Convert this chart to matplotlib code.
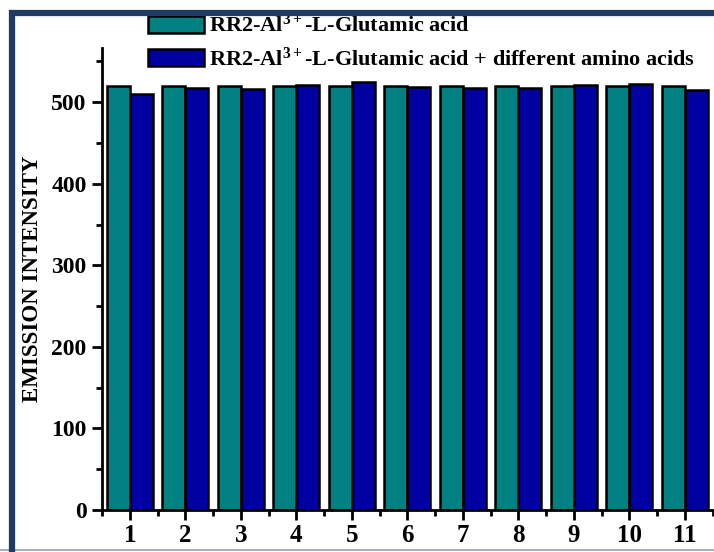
import matplotlib
matplotlib.use('Agg')
import matplotlib.pyplot as plt
from matplotlib.patches import Rectangle
from matplotlib.lines import Line2D
from matplotlib.ticker import MultipleLocator
import numpy as np

# emission intensity for each sample (1-11)
samples = [1, 2, 3, 4, 5, 6, 7, 8, 9, 10, 11]
glutamic = [520, 520, 520, 520, 520, 520, 520, 520, 520, 520, 520]
with_amino = [510, 517, 516, 521, 524.5, 519, 517.5, 517.5, 521.5, 522.5, 515.5]

label_a = 'RR2-Al$^{3+}$-L-Glutamic acid'
label_b = 'RR2-Al$^{3+}$-L-Glutamic acid + different amino acids'

plt.rcParams['font.family'] = 'Liberation Serif'
plt.rcParams['font.weight'] = 'bold'
plt.rcParams['mathtext.fontset'] = 'custom'
plt.rcParams['mathtext.rm'] = 'Liberation Serif:bold'
plt.rcParams['mathtext.it'] = 'Liberation Serif:bold'
plt.rcParams['mathtext.bf'] = 'Liberation Serif:bold'

fig = plt.figure(figsize=(7.14, 5.52), dpi=100)
ax = fig.add_axes([102 / 714, 1 - 510 / 552, 1 - 102 / 714, (510 - 48) / 552])

x = np.array(samples)
w = 0.41
ax.bar(x - w, glutamic, width=w, align='edge', color='#008080',
       edgecolor='black', linewidth=1.8, label=label_a)
ax.bar(x, with_amino, width=w, align='edge', color='#0000A0',
       edgecolor='black', linewidth=1.8, label=label_b)

ax.set_xlim(0.5, 11.527)
ax.set_ylim(0, 566.5)
ax.spines['top'].set_visible(False)
ax.spines['right'].set_visible(False)
for s in ('left', 'bottom'):
    ax.spines[s].set_linewidth(2)

ax.set_xticks(samples)
ax.xaxis.set_minor_locator(MultipleLocator(1, offset=0.5))
ax.yaxis.set_major_locator(MultipleLocator(100))
ax.yaxis.set_minor_locator(MultipleLocator(50))
ax.tick_params(which='major', length=7, width=2, direction='out')
ax.tick_params(which='minor', length=4, width=2, direction='out')
ax.tick_params(axis='x', labelsize=18, pad=3)
ax.tick_params(axis='y', labelsize=17, pad=4)
for lab in ax.get_xticklabels() + ax.get_yticklabels():
    lab.set_fontweight('bold')

ax.set_ylabel('EMISSION INTENSITY', fontsize=16.5, fontweight='bold', labelpad=6)

fig.legend(loc='upper left', bbox_to_anchor=(148 / 714, 1 - 14 / 552),
           frameon=False, handlelength=2.5, handleheight=0.78,
           handletextpad=0.25, labelspacing=0.45, borderaxespad=0, borderpad=0,
           prop={'family': 'Liberation Serif', 'weight': 'bold', 'size': 16})

# dark frame round the figure
fig.patches.append(Rectangle((12 / 714, -0.01), 1.2, 1 - 13 / 552 + 0.01,
                             transform=fig.transFigure, fill=False,
                             edgecolor='#1F3A63', linewidth=4.5, zorder=10))
fig.lines.append(Line2D([0, 1], [1 - 549.5 / 552] * 2, transform=fig.transFigure,
                        color='#A8B0C0', linewidth=1.5))

fig.savefig('out.png', dpi=100)
